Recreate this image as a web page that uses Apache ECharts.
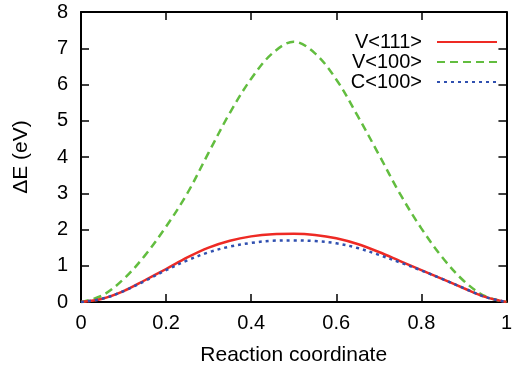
<!DOCTYPE html>
<html>
<head>
<meta charset="utf-8">
<script src="https://cdn.jsdelivr.net/npm/echarts@6/dist/echarts.min.js"></script>
<style>
html,body{margin:0;padding:0;background:#fff;}
#c{width:515px;height:373px;}
</style>
</head>
<body>
<div id="c"></div>
<script>
var xs = [0, 0.05, 0.1, 0.15, 0.2, 0.25, 0.3, 0.35, 0.4, 0.45, 0.5, 0.55, 0.6, 0.65, 0.7, 0.75, 0.8, 0.85, 0.9, 0.95, 1.0];
var v111 = [0, 0.09, 0.3, 0.6, 0.91, 1.23, 1.5, 1.69, 1.81, 1.87, 1.88, 1.85, 1.76, 1.6, 1.38, 1.13, 0.88, 0.63, 0.38, 0.14, 0];
var v100 = [0, 0.18, 0.63, 1.28, 2.08, 3.0, 4.12, 5.22, 6.16, 6.86, 7.18, 6.86, 6.14, 5.14, 4.07, 2.98, 2.03, 1.22, 0.58, 0.16, 0];
var c100 = [0, 0.09, 0.3, 0.58, 0.88, 1.15, 1.37, 1.53, 1.63, 1.69, 1.70, 1.68, 1.62, 1.49, 1.3, 1.09, 0.87, 0.63, 0.38, 0.14, 0];
var names = ['V<111>', 'V<100>', 'C<100>'];
var xTicks = [0, 0.2, 0.4, 0.6, 0.8, 1];

function pairs(arr){ return xs.map(function(x,i){ return [x, arr[i]]; }); }

var font = 'Liberation Sans, Arial, Helvetica, sans-serif';
var chart = echarts.init(document.getElementById('c'), null, {renderer:'canvas'});
var axisLine = {show:true, onZero:false, lineStyle:{color:'#000', width:2}};
var tickIn = {show:true, inside:true, length:8, lineStyle:{color:'#000', width:1.5}};
chart.setOption({
  animation:false,
  backgroundColor:'#fff',
  grid:{left:81, right:7, top:12, bottom:71, containLabel:false},
  legend:{
    orient:'vertical', right:12, top:27, align:'right',
    itemWidth:60, itemHeight:12, itemGap:0,
    itemStyle:{opacity:0},
    textStyle:{fontFamily:font, fontSize:20, color:'#000', padding:[0,10,0,0]},
    data:names
  },
  xAxis:[{
    type:'value', min:0, max:1, interval:0.2, position:'bottom',
    name:'Reaction coordinate', nameLocation:'middle', nameGap:43,
    nameTextStyle:{fontFamily:font, fontSize:21, color:'#000'},
    axisLine:axisLine, axisTick:tickIn, splitLine:{show:false},
    axisLabel:{fontFamily:font, fontSize:20, color:'#000', margin:11,
      formatter:function(v){ return String(xTicks[Math.round(v/0.2)]); }}
  },{
    type:'value', min:0, max:1, interval:0.2, position:'top',
    axisLine:axisLine, axisTick:tickIn, splitLine:{show:false}, axisLabel:{show:false}
  }],
  yAxis:[{
    type:'value', min:0, max:8, interval:1, position:'left',
    name:'\u0394E (eV)', nameLocation:'middle', nameGap:49,
    nameTextStyle:{fontFamily:font, fontSize:21, color:'#000'},
    axisLine:axisLine, axisTick:tickIn, splitLine:{show:false},
    axisLabel:{fontFamily:font, fontSize:20, color:'#000', margin:13}
  },{
    type:'value', min:0, max:8, interval:1, position:'right',
    axisLine:axisLine, axisTick:tickIn, splitLine:{show:false}, axisLabel:{show:false}
  }],
  series:[{
    name:names[0], type:'line', smooth:0.35, symbol:'none', showSymbol:false,
    data:pairs(v111), z:3,
    lineStyle:{color:'#ee2a24', width:2.5, type:'solid'}, itemStyle:{color:'#ee2a24'}
  },{
    name:names[1], type:'line', smooth:0.35, symbol:'none', showSymbol:false,
    data:pairs(v100), z:2,
    lineStyle:{color:'#62bd3f', width:2.5, type:[8,5]}, itemStyle:{color:'#62bd3f'}
  },{
    name:names[2], type:'line', smooth:0.35, symbol:'none', showSymbol:false,
    data:pairs(c100), z:4,
    lineStyle:{color:'#3050b0', width:2.5, type:[3,4]}, itemStyle:{color:'#3050b0'}
  }]
});
</script>
</body>
</html>
